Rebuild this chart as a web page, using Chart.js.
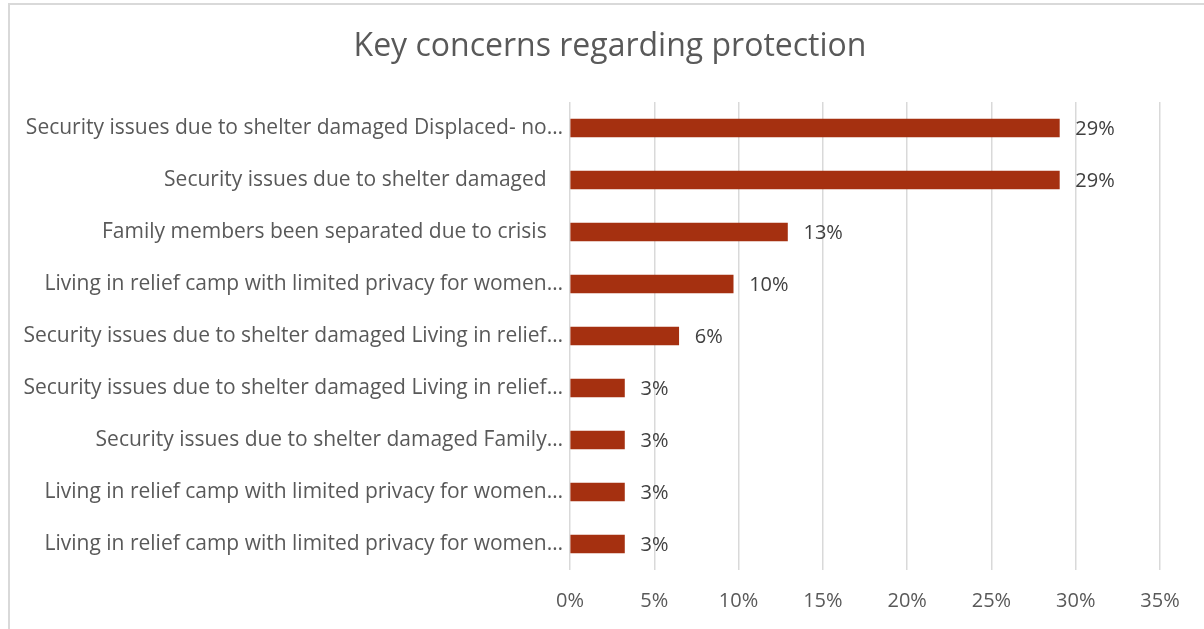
<!DOCTYPE html>
<html>
<head>
<meta charset="utf-8">
<script src="https://cdn.jsdelivr.net/npm/chart.js@4.4.1/dist/chart.umd.min.js"></script>
<style>
  html, body { margin: 0; padding: 0; background: #fff; overflow: hidden; }
  #frame {
    position: absolute; left: 8px; top: 3px; width: 1300px; height: 700px;
    border-left: 2px solid #d9d9d9; border-top: 2px solid #d9d9d9;
  }
  #wrap { position: absolute; left: 0; top: 0; width: 1204px; height: 629px; }
</style>
</head>
<body>
<div id="frame"></div>
<div id="wrap"><canvas id="chart" width="1204" height="629"></canvas></div>
<script>
const FONT = "'Open Sans', Lato, sans-serif";

const chartTitle = "Key concerns regarding protection";
const categories = [
  "Security issues due to shelter damaged Displaced- no…",
  "Security issues due to shelter damaged   ",
  "Family members been separated due to crisis   ",
  "Living in relief camp with limited privacy for women…",
  "Security issues due to shelter damaged Living in relief…",
  "Security issues due to shelter damaged Living in relief…",
  "Security issues due to shelter damaged Family…",
  "Living in relief camp with limited privacy for women…",
  "Living in relief camp with limited privacy for women…",
];
// share of responses, in percent
const shares = [29.03, 29.03, 12.90, 9.68, 6.45, 3.23, 3.23, 3.23, 3.23];
const xTicks = [0, 5, 10, 15, 20, 25, 30, 35];

// title centred over the frame rather than the canvas
const frameTitle = {
  id: "frameTitle",
  afterDraw(chart) {
    const { ctx } = chart;
    ctx.save();
    ctx.font = `32px ${FONT}`;
    ctx.fillStyle = "#595959";
    ctx.textAlign = "center";
    ctx.textBaseline = "middle";
    ctx.fillText(chartTitle, 610, 47);
    ctx.restore();
  },
};

// draws "29%" style labels just past the end of each bar
const barValueLabels = {
  id: "barValueLabels",
  afterDatasetsDraw(chart) {
    const { ctx } = chart;
    const meta = chart.getDatasetMeta(0);
    ctx.save();
    ctx.font = `20px ${FONT}`;
    ctx.fillStyle = "#404040";
    ctx.textAlign = "left";
    ctx.textBaseline = "middle";
    meta.data.forEach((bar, i) => {
      ctx.fillText(Math.round(shares[i]) + "%", bar.x + 16, bar.y + 1);
    });
    ctx.restore();
  },
};

new Chart(document.getElementById("chart"), {
  type: "bar",
  data: {
    labels: categories,
    datasets: [{
      data: shares,
      backgroundColor: "#a53010",
      barThickness: 18,
    }],
  },
  options: {
    indexAxis: "y",
    responsive: false,
    animation: false,
    layout: { padding: { left: 0, right: 44, top: 102, bottom: 0 } },
    plugins: {
      legend: { display: false },
      tooltip: { enabled: false },
      title: { display: false },
    },
    scales: {
      x: {
        min: 0, max: 35,
        afterBuildTicks: (s) => { s.ticks = xTicks.map((v) => ({ value: v })); },
        afterFit: (s) => { s.height = 59; },
        grid: { color: "#d9d9d9", lineWidth: 1.5, drawTicks: false },
        border: { display: false },
        ticks: {
          padding: 19,
          color: "#595959",
          font: { family: FONT, size: 20 },
          callback: (v) => v + "%",
        },
      },
      y: {
        afterFit: (s) => { s.width = 570; },
        grid: { display: false, drawTicks: false },
        border: { display: false },
        ticks: {
          padding: 7,
          color: "#595959",
          font: { family: FONT, size: 21 },
        },
      },
    },
  },
  plugins: [barValueLabels, frameTitle],
});
</script>
</body>
</html>
